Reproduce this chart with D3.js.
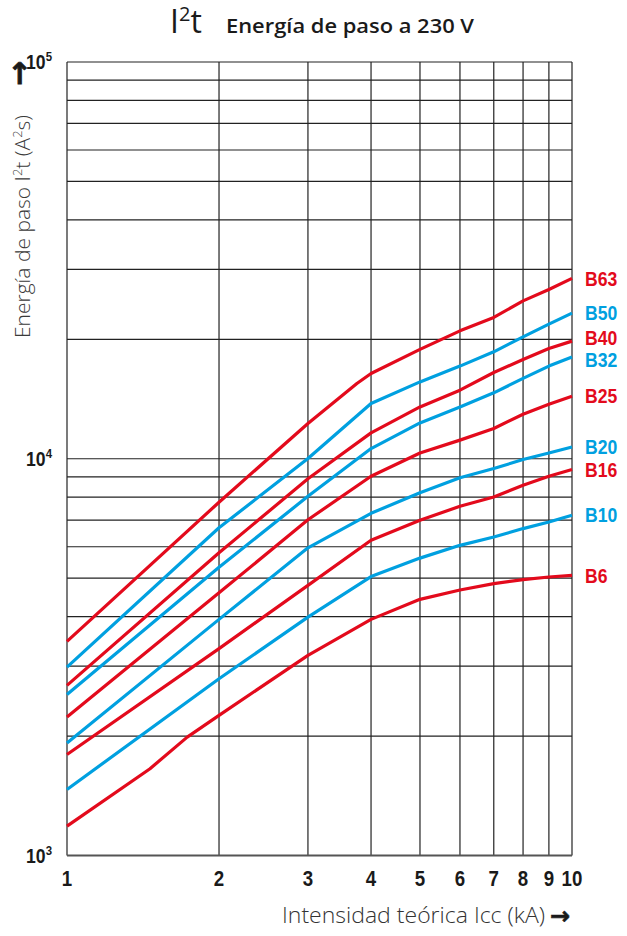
<!DOCTYPE html>
<html><head><meta charset="utf-8">
<script src="https://cdn.jsdelivr.net/npm/d3@7"></script>
<style>
html,body{margin:0;padding:0;background:#fff;}
svg{display:block;}
</style></head>
<body>
<svg id="chart" width="627" height="936"></svg>
<script>
// ---- data ----
const currents = [1, 2, 3, 4, 5, 6, 7, 8, 9, 10];           // kA
const seriesNames = ["B63", "B50", "B40", "B32", "B25", "B20", "B16", "B10", "B6"];
const seriesColors = ["red", "blue", "red", "blue", "red", "blue", "red", "blue", "red"];
const B63 = [3465, 7770, 12270, 16400, 18860, 21010, 22710, 25000, 26710, 28480];
const B50 = [2985, 6699, 10010, 13780, 15620, 17120, 18600, 20290, 21840, 23280];
const B40 = [2684, 5794, 8905, 11620, 13510, 14890, 16500, 17790, 18970, 19790];
const B32 = [2547, 5326, 8042, 10610, 12310, 13510, 14660, 15940, 17120, 18060];
const B25 = [2233, 4592, 7017, 9034, 10340, 11140, 11920, 12950, 13720, 14380];
const B20 = [1920, 3937, 5964, 7287, 8208, 8956, 9447, 9954, 10340, 10710];
const B16 = [1797, 3321, 4797, 6229, 6996, 7590, 8010, 8575, 9034, 9393];
const B10 = [1467, 2790, 3990, 5047, 5618, 6050, 6350, 6668, 6928, 7203];
const B6  = [1186, 2255, 3194, 3937, 4422, 4668, 4844, 4958, 5034, 5084];
// extra read-off points where curves bend
const B63extra = [[3.75, 15480]];
const B6extra = [[1.46, 1655], [1.73, 1988]];
const xTicks = [1, 2, 3, 4, 5, 6, 7, 8, 9, 10];
const yGrid = [1e3,2e3,3e3,4e3,5e3,6e3,7e3,8e3,9e3,1e4,2e4,3e4,4e4,5e4,6e4,7e4,8e4,9e4,1e5];
const yLabels = [[1e3, "3"], [1e4, "4"], [1e5, "5"]];

const seriesValues = {B63, B50, B40, B32, B25, B20, B16, B10, B6};
const seriesExtra = {B63: B63extra, B6: B6extra};

// ---- layout ----
const RED = "#e30a1c", BLUE = "#00a0e0";
const svg = d3.select("#chart");
const x = d3.scaleLog().domain([1, 10]).range([67, 572]);
const y = d3.scaleLog().domain([1e3, 1e5]).range([855.5, 62]);
const numFont = "'Liberation Sans', Arial, sans-serif";
const txtFont = "'Open Sans', 'Noto Sans', sans-serif";

// grid
svg.append("g").selectAll("line").data(yGrid).join("line")
  .attr("x1", x(1)).attr("x2", x(10))
  .attr("y1", d => y(d)).attr("y2", d => y(d))
  .attr("stroke", "#222").attr("stroke-width", 1.2);
svg.append("g").selectAll("line").data(xTicks).join("line")
  .attr("x1", d => x(d)).attr("x2", d => x(d))
  .attr("y1", y(1e5)).attr("y2", y(1e3))
  .attr("stroke", "#222").attr("stroke-width", 1.2);
svg.append("line").attr("x1", x(1)).attr("x2", x(10)).attr("y1", y(1e3)).attr("y2", y(1e3))
  .attr("stroke", "#555").attr("stroke-width", 2);

// x tick labels (condensed bold)
svg.append("g").selectAll("text").data(xTicks).join("text")
  .attr("transform", d => `translate(${x(d)},886) scale(0.85,1)`)
  .attr("text-anchor", "middle")
  .attr("font-family", numFont).attr("font-weight", "bold").attr("font-size", 22)
  .attr("fill", "#1a1a1a")
  .text(d => d);

// y tick labels (10^n)
const yl = svg.append("g").selectAll("text").data(yLabels).join("text")
  .attr("transform", d => `translate(52,${y(d[0]) + 7}) scale(0.88,1)`)
  .attr("text-anchor", "end")
  .attr("font-family", numFont).attr("font-weight", "bold").attr("font-size", 20)
  .attr("fill", "#1a1a1a");
yl.append("tspan").text("10");
yl.append("tspan").attr("dy", -8).attr("font-size", 13).text(d => d[1]);

// series lines
const line = d3.line().x(d => x(d[0])).y(d => y(d[1]));
const labelPos = [];
seriesNames.forEach((name, i) => {
  const pts = currents.map((c, j) => [c, seriesValues[name][j]])
    .concat(seriesExtra[name] || [])
    .sort((a, b) => a[0] - b[0]);
  const col = seriesColors[i] === "red" ? RED : BLUE;
  svg.append("path").datum(pts)
    .attr("d", line).attr("fill", "none")
    .attr("stroke", col).attr("stroke-width", 3.2)
    .attr("stroke-linejoin", "round");
  const last = seriesValues[name][seriesValues[name].length - 1];
  labelPos.push({name, col, y: y(last)});
});
// simple de-overlap of end labels
labelPos.sort((a, b) => a.y - b.y);
const minGap = 22.5;
for (let iter = 0; iter < 20; iter++) {
  for (let k = 1; k < labelPos.length; k++) {
    const gap = labelPos[k].y - labelPos[k - 1].y;
    if (gap < minGap) {
      const push = (minGap - gap) / 2;
      labelPos[k - 1].y -= push; labelPos[k].y += push;
    }
  }
}
svg.append("g").selectAll("text").data(labelPos).join("text")
  .attr("transform", d => `translate(585,${d.y + 7.2}) scale(0.88,1)`)
  .attr("font-family", numFont).attr("font-weight", "bold").attr("font-size", 20)
  .attr("fill", d => d.col).text(d => d.name);

// title
const title = svg.append("text").attr("x", 170).attr("y", 33)
  .attr("font-family", txtFont).attr("fill", "#1a1a1a");
title.append("tspan").attr("font-size", 32).text("I");
title.append("tspan").attr("font-size", 20).attr("dy", -12).text("2");
title.append("tspan").attr("font-size", 32).attr("dy", 12).text("t");
svg.append("text").attr("x", 226).attr("y", 33)
  .attr("font-family", txtFont).attr("font-weight", 600).attr("font-size", 19)
  .attr("textLength", 248).attr("lengthAdjust", "spacingAndGlyphs")
  .attr("fill", "#1a1a1a").text("Energía de paso a 230 V");

// y axis title
const yt = svg.append("text")
  .attr("transform", "translate(30,338) rotate(-90)")
  .attr("font-family", txtFont).attr("font-weight", 300).attr("font-size", 21).attr("fill", "#3a3a3a");
yt.append("tspan").text("Energía de paso I");
yt.append("tspan").attr("dy", -8).attr("font-size", 13).text("2");
yt.append("tspan").attr("dy", 8).text("t (A");
yt.append("tspan").attr("dy", -8).attr("font-size", 13).text("2");
yt.append("tspan").attr("dy", 8).text("s)");
svg.append("text")
  .attr("transform", "translate(29,86) rotate(-90)")
  .attr("font-family", "'DejaVu Sans', sans-serif").attr("font-weight", "bold").attr("font-size", 30)
  .attr("fill", "#1a1a1a").attr("stroke", "#1a1a1a").attr("stroke-width", 0.8)
  .text("→");

// x axis title
svg.append("text").attr("x", 282).attr("y", 923)
  .attr("font-family", txtFont).attr("font-weight", 300).attr("font-size", 22).attr("fill", "#333")
  .attr("textLength", 263).attr("lengthAdjust", "spacingAndGlyphs")
  .text("Intensidad teórica Icc (kA)");
svg.append("text").attr("x", 550).attr("y", 924)
  .attr("font-family", "'DejaVu Sans', sans-serif").attr("font-weight", "bold").attr("font-size", 24)
  .attr("fill", "#1a1a1a").attr("stroke", "#1a1a1a").attr("stroke-width", 0.6)
  .text("→");
</script>
</body></html>
